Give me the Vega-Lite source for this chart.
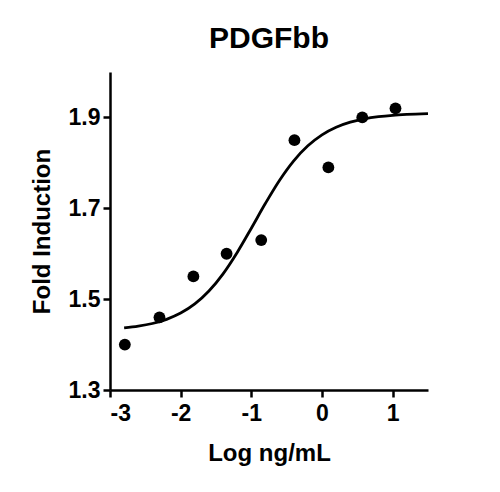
{
  "$schema": "https://vega.github.io/schema/vega-lite/v6.json",
  "width": 318,
  "height": 318,
  "autosize": "none",
  "padding": {"left": 110, "top": 72, "right": 72, "bottom": 102},
  "background": "white",
  "title": {
    "text": "PDGFbb",
    "font": "Liberation Sans",
    "fontSize": 30,
    "fontWeight": "bold",
    "color": "black",
    "anchor": "middle",
    "offset": 18
  },
  "datasets": {
    "points": [
      {"logc": -2.79, "fold": 1.40},
      {"logc": -2.30, "fold": 1.46},
      {"logc": -1.82, "fold": 1.55},
      {"logc": -1.35, "fold": 1.60},
      {"logc": -0.86, "fold": 1.63},
      {"logc": -0.39, "fold": 1.85},
      {"logc": 0.09, "fold": 1.79},
      {"logc": 0.57, "fold": 1.90},
      {"logc": 1.04, "fold": 1.92}
    ],
    "curve": [
      {"logc": -2.8, "fold": 1.4367},
      {"logc": -2.6, "fold": 1.4405},
      {"logc": -2.4, "fold": 1.4464},
      {"logc": -2.2, "fold": 1.4556},
      {"logc": -2.0, "fold": 1.4693},
      {"logc": -1.8, "fold": 1.4894},
      {"logc": -1.6, "fold": 1.5178},
      {"logc": -1.4, "fold": 1.5557},
      {"logc": -1.2, "fold": 1.6028},
      {"logc": -1.0, "fold": 1.6562},
      {"logc": -0.8, "fold": 1.7110},
      {"logc": -0.6, "fold": 1.7618},
      {"logc": -0.4, "fold": 1.8045},
      {"logc": -0.2, "fold": 1.8375},
      {"logc": 0.0, "fold": 1.8616},
      {"logc": 0.2, "fold": 1.8783},
      {"logc": 0.4, "fold": 1.8895},
      {"logc": 0.6, "fold": 1.8968},
      {"logc": 0.8, "fold": 1.9016},
      {"logc": 1.0, "fold": 1.9047},
      {"logc": 1.2, "fold": 1.9066},
      {"logc": 1.5, "fold": 1.9083}
    ]
  },
  "config": {
    "view": {"stroke": null},
    "axis": {
      "grid": false,
      "domainColor": "black",
      "domainWidth": 2.5,
      "tickColor": "black",
      "tickWidth": 2.5,
      "tickSize": 7,
      "labelFont": "Liberation Sans",
      "labelFontWeight": "bold",
      "labelFontSize": 23,
      "labelColor": "black",
      "titleFont": "Liberation Sans",
      "titleFontWeight": "bold",
      "titleFontSize": 24,
      "titleColor": "black"
    }
  },
  "layer": [
    {
      "data": {"name": "curve"},
      "mark": {"type": "line", "color": "black", "strokeWidth": 2.8, "interpolate": "monotone"},
      "encoding": {
        "x": {
          "field": "logc",
          "type": "quantitative",
          "title": "Log ng/mL",
          "scale": {"domain": [-3, 1.5], "nice": false, "zero": false},
          "axis": {"values": [-3, -2, -1, 0, 1], "labelExpr": "'' + datum.value", "labelPadding": 5, "titlePadding": 16}
        },
        "y": {
          "field": "fold",
          "type": "quantitative",
          "title": "Fold Induction",
          "scale": {"domain": [1.3, 2.0], "nice": false, "zero": false},
          "axis": {"values": [1.3, 1.5, 1.7, 1.9], "format": ".1f", "labelPadding": 3, "titlePadding": 14}
        }
      }
    },
    {
      "data": {"name": "points"},
      "mark": {"type": "circle", "color": "black", "opacity": 1, "size": 140},
      "encoding": {
        "x": {"field": "logc", "type": "quantitative"},
        "y": {"field": "fold", "type": "quantitative"}
      }
    }
  ]
}
